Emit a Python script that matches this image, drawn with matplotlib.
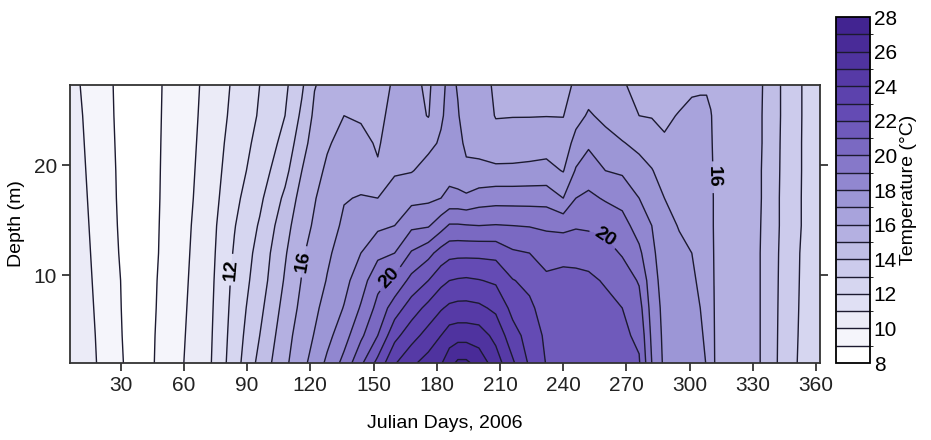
import numpy as np
import matplotlib
matplotlib.use('Agg')
import matplotlib.pyplot as plt
from matplotlib.colors import LinearSegmentedColormap, BoundaryNorm

plt.rcParams['font.family'] = ['Liberation Sans', 'DejaVu Sans']

# Julian day of each sampled profile
days = [6, 18, 28, 38, 48, 60, 72, 84, 96, 108, 116, 122, 128, 136, 144, 152,
        160, 168, 176, 182, 186, 190, 194, 200, 208, 216, 224, 232, 240, 246,
        252, 260, 268, 276, 282, 288, 295, 301, 305, 308, 310, 313, 322, 330,
        338, 346, 355, 362]

# depth of each value in a profile (m)
depths = [2, 4.5, 7, 9.5, 12, 14.5, 17, 19.5, 22, 24.5, 27.3]

# temperature profiles (one list per day, from 2 m up to 27.3 m)
temp_profiles = [
    [10.8, 10.8, 10.75, 10.7, 10.65, 10.6, 10.55, 10.5, 10.45, 10.4, 10.3],
    [10.05, 10.0, 9.95, 9.9, 9.85, 9.8, 9.75, 9.7, 9.65, 9.6, 9.55],
    [9.2, 9.15, 9.12, 9.1, 9.05, 9.02, 9.0, 8.98, 8.95, 8.92, 8.9],
    [8.6, 8.6, 8.6, 8.6, 8.6, 8.6, 8.6, 8.6, 8.6, 8.6, 8.6],
    [9.1, 9.08, 9.05, 9.03, 9.0, 8.98, 8.96, 8.95, 8.94, 8.93, 8.92],
    [10.0, 9.95, 9.9, 9.85, 9.8, 9.75, 9.7, 9.65, 9.6, 9.55, 9.5],
    [10.85, 10.8, 10.75, 10.7, 10.65, 10.6, 10.5, 10.45, 10.4, 10.35, 10.3],
    [12.55, 12.45, 12.35, 12.25, 12.1, 11.95, 11.75, 11.55, 11.4, 11.25, 11.15],
    [14.3, 14.0, 13.75, 13.5, 13.35, 13.1, 12.8, 12.5, 12.3, 12.1, 12.0],
    [15.8, 15.6, 15.35, 15.1, 14.9, 14.6, 14.2, 13.7, 13.3, 13.0, 12.8],
    [16.7, 16.5, 16.25, 16.05, 15.9, 15.7, 15.4, 15.0, 14.6, 14.2, 13.85],
    [17.4, 17.05, 16.8, 16.55, 16.3, 16.1, 15.95, 15.7, 15.45, 15.2, 14.95],
    [18.2, 17.7, 17.35, 17.05, 16.85, 16.6, 16.35, 16.15, 15.9, 15.6, 15.3],
    [19.3, 18.6, 18.05, 17.7, 17.4, 17.15, 16.95, 16.6, 16.3, 16.0, 15.5],
    [20.8, 19.8, 19.1, 18.55, 18.0, 17.45, 17.05, 16.65, 16.25, 15.9, 15.6],
    [22.3, 21.0, 20.3, 19.7, 18.75, 17.8, 17.0, 16.1, 15.9, 15.8, 15.7],
    [23.9, 22.7, 21.5, 20.25, 19.0, 18.0, 17.4, 16.9, 16.5, 16.25, 16.1],
    [24.8, 23.6, 22.5, 21.3, 20.1, 18.8, 17.7, 16.95, 16.6, 16.4, 16.3],
    [25.4, 24.4, 23.3, 22.0, 20.7, 18.9, 17.8, 17.3, 16.8, 15.95, 15.8],
    [25.9, 25.0, 23.9, 22.7, 21.4, 19.6, 18.0, 17.4, 17.1, 16.9, 16.8],
    [26.6, 25.5, 24.2, 23.0, 21.7, 20.1, 18.3, 17.6, 17.35, 17.25, 17.2],
    [27.2, 25.6, 24.3, 23.1, 21.75, 20.1, 18.3, 17.4, 17.15, 17.05, 16.95],
    [27.2, 25.6, 24.3, 23.15, 21.75, 20.05, 18.2, 17.1, 16.9, 16.7, 16.6],
    [26.6, 25.5, 24.2, 23.05, 21.75, 20.0, 18.5, 17.15, 16.8, 16.55, 16.4],
    [25.5, 24.7, 23.8, 22.85, 21.7, 20.05, 18.6, 17.2, 16.4, 15.95, 15.85],
    [24.15, 23.4, 22.7, 22.05, 21.15, 20.0, 18.6, 17.2, 16.45, 15.97, 15.85],
    [22.85, 22.6, 22.2, 21.75, 21.0, 19.95, 18.6, 17.25, 16.5, 15.97, 15.85],
    [21.95, 21.8, 21.55, 21.2, 20.6, 19.85, 18.6, 17.3, 16.6, 15.98, 15.85],
    [21.9, 21.8, 21.6, 21.3, 20.7, 19.75, 18.0, 16.95, 16.5, 15.97, 15.8],
    [21.85, 21.75, 21.55, 21.25, 20.7, 19.9, 19.0, 18.1, 17.3, 16.7, 16.1],
    [21.8, 21.7, 21.5, 21.2, 20.6, 19.85, 19.2, 18.5, 17.85, 17.1, 16.6],
    [21.6, 21.5, 21.3, 20.9, 20.4, 19.7, 18.9, 18.0, 17.3, 16.8, 16.4],
    [21.4, 21.2, 21.0, 20.6, 19.9, 19.35, 18.7, 17.85, 17.05, 16.5, 16.1],
    [21.1, 20.8, 20.4, 19.9, 19.2, 18.6, 18.0, 17.3, 16.8, 16.0, 15.7],
    [19.0, 18.8, 18.6, 18.4, 18.2, 18.0, 17.6, 17.05, 16.5, 15.95, 15.6],
    [17.8, 17.75, 17.7, 17.6, 17.5, 17.3, 17.0, 16.6, 16.1, 15.85, 15.5],
    [17.6, 17.55, 17.5, 17.4, 17.2, 16.95, 16.7, 16.5, 16.3, 16.05, 15.7],
    [17.5, 17.4, 17.3, 17.1, 17.0, 16.95, 16.75, 16.55, 16.35, 16.15, 15.9],
    [17.3, 17.15, 17.0, 16.9, 16.8, 16.65, 16.5, 16.4, 16.3, 16.1, 15.95],
    [16.95, 16.8, 16.7, 16.6, 16.5, 16.45, 16.4, 16.35, 16.3, 16.2, 15.9],
    [16.4, 16.35, 16.3, 16.3, 16.25, 16.2, 16.2, 16.15, 16.1, 16.05, 15.8],
    [15.75, 15.75, 15.75, 15.7, 15.7, 15.7, 15.7, 15.7, 15.65, 15.65, 15.6],
    [15.6, 15.6, 15.6, 15.55, 15.55, 15.55, 15.5, 15.5, 15.5, 15.5, 15.5],
    [15.3, 15.3, 15.3, 15.3, 15.3, 15.3, 15.35, 15.35, 15.35, 15.35, 15.4],
    [14.6, 14.6, 14.6, 14.6, 14.6, 14.65, 14.65, 14.65, 14.7, 14.7, 14.7],
    [13.25, 13.3, 13.35, 13.4, 13.45, 13.5, 13.5, 13.55, 13.55, 13.6, 13.6],
    [12.8, 12.8, 12.8, 12.8, 12.8, 12.85, 12.85, 12.85, 12.85, 12.85, 12.85],
    [12.6, 12.6, 12.6, 12.6, 12.6, 12.6, 12.6, 12.6, 12.6, 12.6, 12.6],
]

x_ticks = [30, 60, 90, 120, 150, 180, 210, 240, 270, 300, 330, 360]
y_ticks = [10, 20]
cbar_ticks = [8, 10, 12, 14, 16, 18, 20, 22, 24, 26, 28]

# labelled isotherms and where their labels sit (day, depth)
label_spots = {
    12: [(82, 10.5)],
    16: [(117, 11.2), (311, 18.9)],
    20: [(158, 9.6), (259, 13.2)],
}

temps = np.array(temp_profiles).T
levels = np.arange(8, 29, 1)
line_color = '#1c1a30'

cmap = LinearSegmentedColormap.from_list('purp', [
    (0.0, (1.0, 1.0, 1.0)),
    (0.25, (0.81, 0.81, 0.93)),
    (0.5, (0.59, 0.56, 0.83)),
    (0.75, (0.38, 0.28, 0.70)),
    (1.0, (0.26, 0.14, 0.57)),
], N=20)
norm = BoundaryNorm(levels, cmap.N)

fig = plt.figure(figsize=(9.31, 4.40), dpi=100)
ax = fig.add_axes([0.0752, 0.175, 0.806, 0.632])

cf = ax.contourf(days, depths, temps, levels=levels, cmap=cmap, norm=norm)

plain_levels = [lv for lv in levels[1:-1] if lv not in label_spots]
ax.contour(days, depths, temps, levels=plain_levels, colors=line_color,
           linewidths=1.0)

# labelled isotherms drawn one by one so each can carry its labels
for lev, spots in label_spots.items():
    cs = ax.contour(days, depths, temps, levels=[lev], colors=line_color,
                    linewidths=1.0)
    lbls = ax.clabel(cs, manual=spots, fmt='%d', fontsize=14, inline=True,
                     inline_spacing=5, colors='black')
    for t in lbls:
        t.set_fontweight('bold')

ax.set_xlim(6, 362)
ax.set_ylim(2, 27.3)
ax.set_xticks(x_ticks)
ax.set_yticks(y_ticks)
ax.tick_params(axis='both', direction='out', length=6, width=1.2,
               labelsize=15, colors='#222222')
ax.tick_params(axis='y', right=True, labelright=False)
for sp in ax.spines.values():
    sp.set_linewidth(1.3)
    sp.set_color('#333333')

ax.set_xlabel('Julian Days, 2006', fontsize=14, labelpad=14)
ax.set_ylabel('Depth (m)', fontsize=14, labelpad=6)

cax = fig.add_axes([0.898, 0.175, 0.036, 0.786])
cb = fig.colorbar(cf, cax=cax, ticks=cbar_ticks, drawedges=True)
cb.ax.tick_params(length=0, labelsize=15, pad=3)
cb.outline.set_linewidth(1.3)
cb.dividers.set_color(line_color)
cb.dividers.set_linewidth(1.0)
cb.set_label('Temperature (°C)', fontsize=14, labelpad=2)

fig.savefig('out.png', dpi=100)
